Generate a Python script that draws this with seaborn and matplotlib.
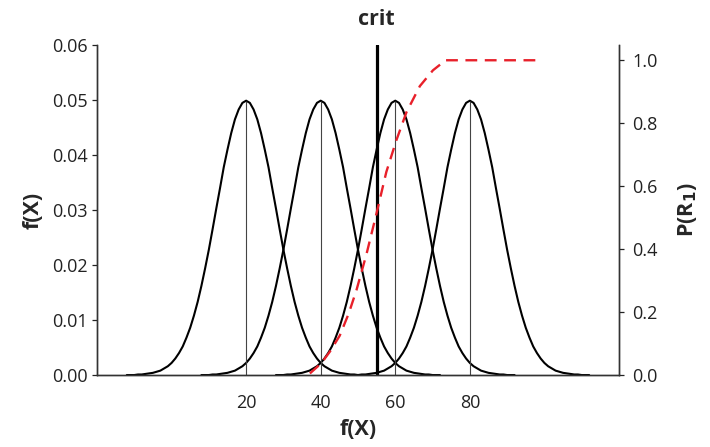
import numpy as np
import pandas as pd
import matplotlib
matplotlib.use("Agg")
import matplotlib.pyplot as plt
import seaborn as sns

# --- data ---
means = [20, 40, 60, 80]
crit = 55
# bell profile: density at distance d from the mean (same shape for all curves)
profile_offset = list(range(0, 31)) + [32]
profile_density = [0.0499, 0.0495, 0.0483, 0.0465, 0.0440, 0.0410, 0.0378,
                   0.0340, 0.0303, 0.0265, 0.0228, 0.0194, 0.0162, 0.0133,
                   0.0108, 0.0086, 0.0068, 0.0052, 0.0040, 0.0030, 0.0022,
                   0.0016, 0.0012, 0.0008, 0.0006, 0.0004, 0.0003, 0.0002,
                   0.0001, 0.0001, 0.0000, 0.0000]
# P(R1) curve (red dashed)
p_x = [37.1, 40.2, 42.5, 45.1, 47.5, 49.6, 52.3, 55.0, 57.6, 60.3, 63.0,
       66.6, 70.1, 73.5, 98.2]
p_y = [0.005, 0.038, 0.075, 0.125, 0.195, 0.27, 0.385, 0.515, 0.645, 0.746,
       0.835, 0.918, 0.968, 1.0, 1.0]
x_ticks = [20, 40, 60, 80]

# build long table for the bell curves
rows = []
for m in means:
    for d, f in zip(profile_offset[::-1], profile_density[::-1]):
        if d:
            rows.append((m, m - d, f))
    for d, f in zip(profile_offset, profile_density):
        rows.append((m, m + d, f))
bells = pd.DataFrame(rows, columns=["mean", "x", "f"])
peak = max(profile_density)

sns.set_style("white")
plt.rcParams["font.family"] = ["Open Sans", "DejaVu Sans"]

fig = plt.figure(figsize=(7.1, 4.47), dpi=100)
ax = fig.add_axes([0.1366, 0.161, 0.7352, 0.738])

for m in means:
    sub = bells[bells["mean"] == m]
    sns.lineplot(data=sub, x="x", y="f", color="black", lw=1.5, ax=ax,
                 sort=False, estimator=None)
ax.vlines(means, 0, peak, color="#444444", lw=0.8)
ax.axvline(crit, color="black", lw=2.3)

ax.set_xlim(-20, 120)
ax.set_ylim(0, 0.06)
ax.set_xticks(x_ticks)
ax.set_yticks(np.arange(0, 0.061, 0.01))
ax.yaxis.set_major_formatter(matplotlib.ticker.FormatStrFormatter("%.2f"))
ax.tick_params(axis="x", length=0, pad=14, labelsize=13, colors="#222222")
ax.tick_params(axis="y", left=True, length=3.5, width=0.9, pad=3,
               labelsize=13, colors="#222222")
ax.set_xlabel("f(X)", fontsize=15.5, fontweight="bold", labelpad=5)
ax.set_ylabel("f(X)", fontsize=15.5, fontweight="bold", labelpad=6)

ax2 = ax.twinx()
sns.lineplot(x=p_x, y=p_y, color="#e8202a", lw=1.7, ax=ax2,
             sort=False, estimator=None)
ax2.lines[-1].set_dashes([5, 3.2])
ax2.set_ylim(0, 1.048)
ax2.set_yticks([0.0, 0.2, 0.4, 0.6, 0.8, 1.0])
ax2.yaxis.set_major_formatter(matplotlib.ticker.FormatStrFormatter("%.1f"))
ax2.tick_params(axis="y", right=True, length=3.5, width=0.9, pad=6,
                labelsize=13, colors="#222222")
ax2.set_ylabel("P(R$_\\mathbf{1}$)", fontsize=15.5, fontweight="bold",
               rotation=90, labelpad=13)

for a in (ax, ax2):
    a.spines["top"].set_visible(False)
    for s in ("left", "right", "bottom"):
        a.spines[s].set_color("#333333")
        a.spines[s].set_linewidth(1.0)

ax.text(crit, 1.045, "crit", transform=ax.get_xaxis_transform(),
        ha="center", va="bottom", fontsize=15.5, fontweight="bold")

fig.savefig("out.png", dpi=100)
